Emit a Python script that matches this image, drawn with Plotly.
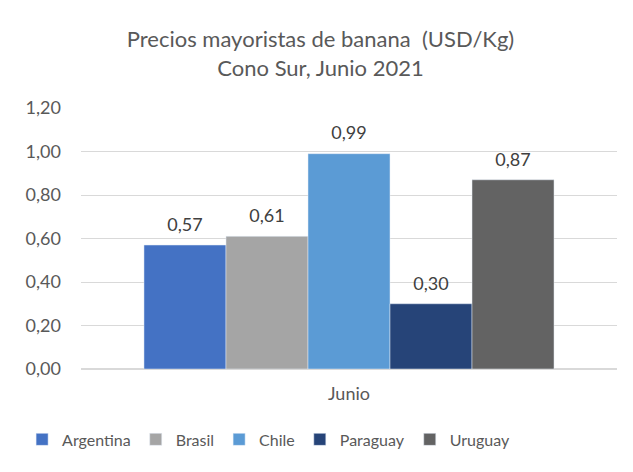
import plotly.graph_objects as go

# Data
paises = ["Argentina", "Brasil", "Chile", "Paraguay", "Uruguay"]
precios = [0.57, 0.61, 0.99, 0.30, 0.87]
colores = ["#4472c4", "#a5a5a5", "#5b9bd5", "#264478", "#636363"]
categoria = ["Junio"]

fig = go.Figure()

for i, (pais, precio, color) in enumerate(zip(paises, precios, colores)):
    fig.add_trace(go.Bar(
        name=pais,
        x=categoria,
        y=[precio],
        marker_color=color,
        offsetgroup=str(i),
    ))
    # value label above each bar (transparent marker pushes the text up a bit)
    fig.add_trace(go.Scatter(
        x=categoria,
        y=[precio],
        mode="markers+text",
        marker=dict(size=14, opacity=0),
        text=[f"{precio:.2f}".replace(".", ",")],
        textposition="top center",
        textfont=dict(size=18, color="#404040"),
        offsetgroup=str(i),
        showlegend=False,
        hoverinfo="skip",
        cliponaxis=False,
    ))

fig.update_layout(
    width=625,
    height=464,
    margin=dict(l=73, r=16, t=100, b=103),
    paper_bgcolor="white",
    plot_bgcolor="white",
    font=dict(family="Lato, 'Open Sans', sans-serif", color="#595959", size=17),
    separators=",.",
    title=dict(
        text="Precios mayoristas de banana  (USD/Kg)<br>Cono Sur, Junio 2021",
        x=0.5, xanchor="center",
        y=0.915, yanchor="middle",
        font=dict(size=22, color="#595959"),
    ),
    barmode="group",
    bargap=0.235,
    bargroupgap=0,
    scattermode="group",
    scattergap=0.235,
    showlegend=True,
    legend=dict(
        orientation="h",
        x=0.35, xanchor="center",
        y=-0.27, yanchor="middle",
        font=dict(size=16, color="#595959"),
        itemwidth=30,
        traceorder="normal",
    ),
    yaxis=dict(
        range=[0, 1.2],
        dtick=0.2,
        tickformat=".2f",
        showgrid=True,
        gridcolor="#d9d9d9",
        gridwidth=1,
        zeroline=True,
        zerolinecolor="#d9d9d9",
        showline=False,
        ticks="",
        ticklabelstandoff=19,
        tickfont=dict(size=18, color="#595959"),
    ),
    xaxis=dict(
        showline=True,
        linecolor="#d9d9d9",
        ticks="",
        ticklabelstandoff=8,
        tickfont=dict(size=18, color="#595959"),
    ),
    shapes=[dict(
        type="rect", xref="paper", yref="paper",
        x0=-0.138, x1=1.2, y0=-0.6, y1=1.398,
        line=dict(color="#d9d9d9", width=1.5),
        fillcolor="rgba(0,0,0,0)",
        layer="below",
    )],
)

fig.write_html("out.html")
